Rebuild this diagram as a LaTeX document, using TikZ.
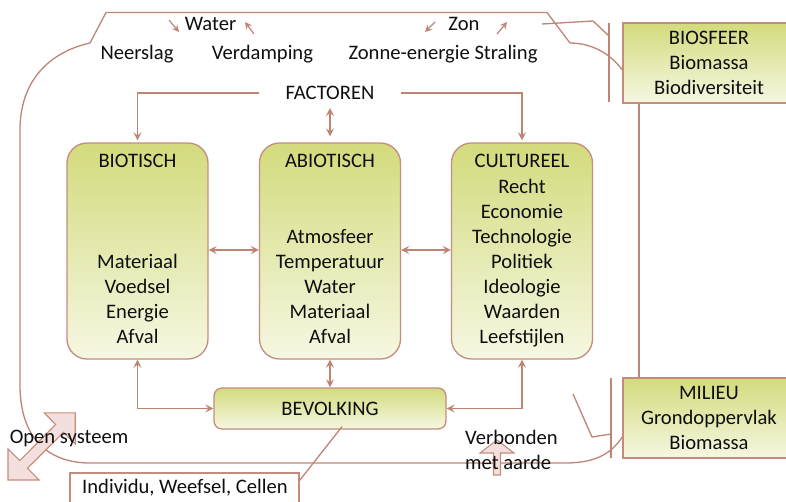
\documentclass[tikz,border=0pt]{standalone}
\usepackage{fontspec}
\setmainfont{Carlito}
\usetikzlibrary{arrows.meta}
\definecolor{lnc}{RGB}{190,132,116}
\definecolor{bxc}{RGB}{196,140,124}
\definecolor{gtop}{RGB}{211,219,125}
\definecolor{gbot}{RGB}{246,247,226}
\definecolor{pkc}{RGB}{243,224,222}
\definecolor{txc}{RGB}{15,15,15}
\begin{document}
\begin{tikzpicture}[x=1pt,y=-1pt,
  font=\fontsize{20.6pt}{25pt}\selectfont,
  ln/.style={draw=lnc,line width=1.3pt},
  tipa/.tip={Stealth[length=8pt,width=8pt,inset=3pt]},
  tips/.tip={Stealth[length=7pt,width=7pt,inset=2.5pt]},
  arr/.style={ln,-tipa},
  arrr/.style={ln,tipa-tipa},
  arrs/.style={ln,line width=1.2pt,-tips},
  txt/.style={inner sep=0pt,text=txc},
  bigbox/.style={draw=bxc,line width=1.3pt,rounded corners=20pt,top color=gtop,bottom color=gbot,minimum width=141pt,minimum height=216pt,inner sep=0pt},
  bevbox/.style={draw=bxc,line width=1.3pt,rounded corners=8pt,top color=gtop,bottom color=gbot,minimum width=232pt,minimum height=41pt,inner sep=0pt},
  sqbox/.style={draw=bxc,line width=1.3pt,top color=gtop,bottom color=gbot,minimum width=172pt,minimum height=80pt,inner sep=0pt,align=center,text=txc},
  whbox/.style={draw=bxc,line width=1.3pt,fill=white,minimum width=229pt,minimum height=47pt,inner sep=0pt},
  blk/.style={draw=bxc,line width=1.1pt,fill=pkc}
]
\useasboundingbox (0,0) rectangle (786,501);

% coordinates
\coordinate (r1) at (639,0);

% boxes
\node[sqbox] (bios) at (709,63) {BIOSFEER\\Biomassa\\Biodiversiteit};
\node[sqbox] (mil) at (709,418) {MILIEU\\Grondoppervlak\\Biomassa};
\node[bigbox] (bio) at (137.5,251) {};
\node[bigbox] (abio) at (330,251) {};
\node[bigbox] (cult) at (522,251) {};
\node[bevbox] (bev) at (330,408.5) {};
\node[whbox] (ind) at (184.5,496.5) {};

% outer boundary
\draw[ln] ([yshift=-7pt]bios.west) .. controls (613,57) and (595,43) .. (570,43)
  -- (547,12.5) -- (106,12.5) -- (90,43) .. controls (50,52) and (20,80) .. (20,130)
  -- (20,385) .. controls (20,440) and (50,463) .. (90,463) -- (565,463)
  .. controls (598,463) and (612,452) .. ([yshift=-19pt]mil.west);
\coordinate (b1) at (542,24);
\coordinate (b2) at (609,36);
\draw[ln] (b1) -- (593,21) -- (b2);
\draw[ln] (609,23) -- (609,102);
\coordinate (c1) at (573,394);
\coordinate (c2) at (611,434);
\draw[ln] (c1) -- (592,437) -- (c2);
\draw[ln] (611,378) -- (611,458);
\draw[ln] (bios.south -| r1) -- (mil.north -| r1);

% top labels
\node[txt,anchor=base] (water) at (210.5,30.7) {Water};
\node[txt,anchor=base] (zon) at (464,30.7) {Zon};
\node[txt,anchor=base] (neer) at (137,59.8) {Neerslag};
\node[txt,anchor=base] (verd) at (262.5,59.8) {Verdamping};
\node[txt,anchor=base] (zonne) at (443,59.8) {Zonne-energie Straling};
\node[txt,anchor=base,inner xsep=26pt] (fac) at (330,99.7) {FACTOREN};

\coordinate (w1) at (169,20); \coordinate (w2) at (179,32);
\coordinate (w3) at (254,34); \coordinate (w4) at (245,22);
\coordinate (z1) at (435,22); \coordinate (z2) at (425,32);
\coordinate (z3) at (497,34); \coordinate (z4) at (507,22);
\draw[arrs] (w1) -- (w2);
\draw[arrs] (w3) -- (w4);
\draw[arrs] (z1) -- (z2);
\draw[arrs] (z3) -- (z4);

% box texts
\node[txt,anchor=base] (biot) at (137.5,167.7) {BIOTISCH};
\node[txt,align=center] (bioi) at (137.5,299.2) {Materiaal\\Voedsel\\Energie\\Afval};
\node[txt,anchor=base] (abiot) at (330,167.7) {ABIOTISCH};
\node[txt,align=center] (abioi) at (330,286.7) {Atmosfeer\\Temperatuur\\Water\\Materiaal\\Afval};
\node[txt,anchor=base] (cultt) at (522,167.7) {CULTUREEL};
\node[txt,align=center] (culti) at (522,263.1) {Recht\\Economie\\Technologie\\Politiek\\Ideologie\\Waarden\\Leefstijlen};
\node[txt,anchor=base] (bevt) at (330,415.7) {BEVOLKING};
\node[txt,anchor=base] (indt) at (185,493.7) {Individu, Weefsel, Cellen};

% connectors
\draw[arr] (fac.west) -| ([yshift=2pt]bio.north);
\draw[arr] (fac.east) -| ([yshift=2pt]cult.north);
\coordinate (f1) at (330,108);
\draw[arrr] (f1) -- ([yshift=6pt]abio.north);
\draw[arrr] ([yshift=1pt]bio.east) -- ([yshift=1pt]abio.west);
\draw[arrr] ([yshift=1pt]abio.east) -- ([yshift=1pt]cult.west);
\draw[arrr] (bio.south) |- (bev.west);
\draw[arrr] (cult.south) |- (bev.east);
\draw[arrr] (abio.south) -- (bev.north);
\draw[ln] ([xshift=12pt,yshift=3pt]bev.south) -- ([yshift=-8pt]ind.north east);

% block arrows
\draw[blk] (8,480) -- (39.1,480) -- (27.4,468.3) -- (63.5,432.3) -- (75.2,443.9)
  -- (75.2,412.8) -- (44.1,412.8) -- (55.7,424.5) -- (19.7,460.6) -- (8,448.9) -- cycle;
\draw[blk] (497,440) -- (514,453) -- (500.5,453) -- (500.5,475) -- (493.5,475)
  -- (493.5,453) -- (480,453) -- cycle;

\node[txt,anchor=base] (open) at (69,443.7) {Open systeem};
\node[txt,anchor=base west] (verb) at (465,444.7) {Verbonden};
\node[txt,anchor=base west] (aarde) at (465,469.7) {met aarde};
\end{tikzpicture}
\end{document}
